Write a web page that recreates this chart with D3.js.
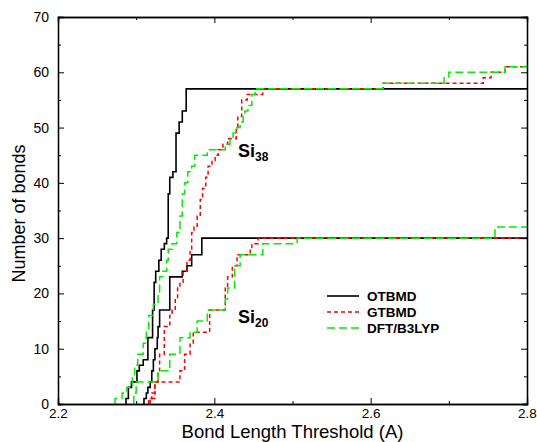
<!DOCTYPE html>
<html lang="en">
  <head>
    <meta charset="UTF-8" />
    <title>Number of bonds vs bond length threshold</title>
    <script src="https://cdn.jsdelivr.net/npm/d3@7/dist/d3.min.js"></script>
    <style>
      body { margin: 0; background: #fff; }
      text { font-family: "Liberation Sans", Arial, sans-serif; }
    </style>
  </head>
  <body>
    <script>
      // step data: threshold where the count rises, and the count after it
      const si38OtX = [2.287, 2.290, 2.294, 2.301, 2.304, 2.309, 2.315, 2.321, 2.323, 2.325, 2.329, 2.332, 2.336, 2.339, 2.341, 2.343, 2.347, 2.351, 2.355, 2.359, 2.364];
      const si38OtN = [1, 3, 4, 6, 7, 8, 12, 17, 22, 24, 26, 28, 29, 30, 38, 41, 42, 49, 51, 53, 57];

      const si38GtX = [2.318, 2.324, 2.328, 2.330, 2.336, 2.343, 2.346, 2.350, 2.353, 2.356, 2.360, 2.365, 2.369, 2.371, 2.374, 2.378, 2.382, 2.385, 2.389, 2.392, 2.397, 2.401, 2.405, 2.411, 2.417, 2.428, 2.430, 2.435, 2.442, 2.462, 2.616, 2.744, 2.754, 2.772];
      const si38GtN = [1, 4, 6, 9, 14, 16, 17, 19, 21, 22, 24, 26, 28, 31, 32, 34, 37, 39, 41, 43, 44, 45, 46, 47, 48, 50, 52, 55, 56, 57, 58, 59, 60, 61];

      const si38DfX = [2.273, 2.282, 2.288, 2.295, 2.298, 2.302, 2.309, 2.313, 2.316, 2.322, 2.328, 2.330, 2.334, 2.339, 2.341, 2.346, 2.352, 2.356, 2.359, 2.362, 2.366, 2.371, 2.375, 2.391, 2.414, 2.420, 2.424, 2.429, 2.433, 2.437, 2.439, 2.443, 2.448, 2.452, 2.616, 2.694, 2.700, 2.772];
      const si38DfN = [1, 2, 3, 5, 7, 9, 11, 13, 16, 18, 20, 23, 24, 26, 28, 29, 31, 34, 38, 40, 42, 43, 45, 46, 47, 48, 49, 50, 51, 52, 53, 54, 56, 57, 58, 59, 60, 61];

      const si20OtX = [2.310, 2.313, 2.315, 2.318, 2.320, 2.322, 2.324, 2.327, 2.328, 2.330, 2.343, 2.359, 2.365, 2.371, 2.384];
      const si20OtN = [1, 2, 3, 4, 6, 8, 10, 12, 14, 17, 23, 24, 25, 27, 30];

      const si20GtX = [2.316, 2.320, 2.324, 2.356, 2.362, 2.369, 2.373, 2.394, 2.414, 2.417, 2.423, 2.429, 2.446, 2.448, 2.456];
      const si20GtN = [1, 2, 4, 6, 9, 11, 13, 17, 21, 23, 25, 27, 28, 29, 30];

      const si20DfX = [2.297, 2.300, 2.328, 2.343, 2.356, 2.369, 2.378, 2.391, 2.414, 2.417, 2.426, 2.433, 2.462, 2.506, 2.759];
      const si20DfN = [2, 4, 6, 9, 12, 13, 15, 17, 19, 21, 25, 27, 29, 30, 32];

      const methods = ["OTBMD", "GTBMD", "DFT/B3LYP"];
      const xTicks = [2.2, 2.4, 2.6, 2.8];
      const yTicks = [0, 10, 20, 30, 40, 50, 60, 70];

      const width = 537;
      const height = 442;
      const margin = { top: 17, right: 10, bottom: 38, left: 58 };
      const innerW = width - margin.left - margin.right;
      const innerH = height - margin.top - margin.bottom;

      const styles = {
        OTBMD: { color: "#000", dash: null, w: 1.6 },
        GTBMD: { color: "#ff0000", dash: "4,3", w: 1.5 },
        "DFT/B3LYP": { color: "#00ee00", dash: "8,4", w: 1.5 }
      };

      const series = [
        { m: "OTBMD", x: si38OtX, n: si38OtN },
        { m: "GTBMD", x: si38GtX, n: si38GtN },
        { m: "DFT/B3LYP", x: si38DfX, n: si38DfN },
        { m: "OTBMD", x: si20OtX, n: si20OtN },
        { m: "GTBMD", x: si20GtX, n: si20GtN },
        { m: "DFT/B3LYP", x: si20DfX, n: si20DfN }
      ];

      const svg = d3
        .select("body")
        .append("svg")
        .attr("width", width)
        .attr("height", height);

      const g = svg
        .append("g")
        .attr("transform", `translate(${margin.left},${margin.top})`);

      const x = d3.scaleLinear().domain([2.2, 2.8]).range([0, innerW]);
      const y = d3.scaleLinear().domain([0, 70]).range([innerH, 0]);

      g.append("clipPath")
        .attr("id", "clip")
        .append("rect")
        .attr("width", innerW)
        .attr("height", innerH);

      const line = d3
        .line()
        .x((d) => x(d[0]))
        .y((d) => y(d[1]))
        .curve(d3.curveStepAfter);

      // black first, dashed curves on top of it
      const order = ["OTBMD", "GTBMD", "DFT/B3LYP"];
      order.forEach((m) => {
        series
          .filter((s) => s.m === m)
          .forEach((s) => {
            const pts = [[s.x[0], 0]];
            s.x.forEach((v, i) => pts.push([v, s.n[i]]));
            pts.push([2.8, s.n[s.n.length - 1]]);
            const st = styles[m];
            g.append("path")
              .datum(pts)
              .attr("clip-path", "url(#clip)")
              .attr("fill", "none")
              .attr("stroke", st.color)
              .attr("stroke-width", st.w)
              .attr("stroke-dasharray", st.dash)
              .attr("d", line);
          });
      });

      // axes, ticks inward on all four sides
      const xMinor = [2.3, 2.5, 2.7];
      const yMinor = d3.range(5, 70, 10);

      g.append("g")
        .attr("class", "xlab")
        .attr("transform", `translate(0,${innerH})`)
        .call(d3.axisBottom(x).tickValues(xTicks).tickSize(-6).tickPadding(4).tickFormat(d3.format(".1f")));
      g.append("g")
        .attr("transform", `translate(0,${innerH})`)
        .call(d3.axisBottom(x).tickValues(xMinor).tickSize(-3).tickFormat(""));
      g.append("g")
        .call(d3.axisTop(x).tickValues(xTicks).tickSize(-6).tickFormat(""));
      g.append("g")
        .call(d3.axisTop(x).tickValues(xMinor).tickSize(-3).tickFormat(""));

      g.append("g")
        .call(d3.axisLeft(y).tickValues(yTicks).tickSize(-6).tickPadding(9));
      g.append("g").call(d3.axisLeft(y).tickValues(yMinor).tickSize(-3).tickFormat(""));
      g.append("g")
        .attr("transform", `translate(${innerW},0)`)
        .call(d3.axisRight(y).tickValues(yTicks).tickSize(-6).tickFormat(""));
      g.append("g")
        .attr("transform", `translate(${innerW},0)`)
        .call(d3.axisRight(y).tickValues(yMinor).tickSize(-3).tickFormat(""));

      g.selectAll(".domain").attr("stroke", "#000").attr("stroke-width", 1.3);
      g.selectAll(".tick line").attr("stroke", "#000").attr("stroke-width", 1);
      g.selectAll(".tick text")
        .attr("fill", "#000")
        .style("font-size", "14px")
        .style("font-family", "'Liberation Sans', Arial, sans-serif");
      g.selectAll(".xlab .tick text").style("font-size", "13.5px");

      // axis titles
      svg
        .append("text")
        .attr("x", margin.left + innerW / 2)
        .attr("y", 438)
        .attr("text-anchor", "middle")
        .style("font-size", "18.5px")
        .text("Bond Length Threshold (A)");

      svg
        .append("text")
        .attr("transform", `translate(25,${margin.top + innerH / 2 + 3}) rotate(-90)`)
        .attr("text-anchor", "middle")
        .style("font-size", "18px")
        .text("Number of bonds");

      // cluster labels
      const label = (px, py, sub) => {
        const t = svg
          .append("text")
          .attr("x", px)
          .attr("y", py)
          .style("font-size", "18px")
          .style("font-weight", "bold");
        t.append("tspan").text("Si");
        t.append("tspan")
          .attr("dy", 4)
          .style("font-size", "12px")
          .text(sub);
      };
      label(238, 157, "38");
      label(238, 323, "20");

      // legend
      const legend = svg.append("g").attr("transform", "translate(327,296)");
      methods.forEach((m, i) => {
        const st = styles[m];
        const row = legend.append("g").attr("transform", `translate(0,${i * 16})`);
        row.append("line")
          .attr("x1", 0)
          .attr("x2", 32)
          .attr("stroke", st.color)
          .attr("stroke-width", st.w)
          .attr("stroke-dasharray", st.dash);
        row.append("text")
          .attr("x", 40)
          .attr("y", 5)
          .style("font-size", "13.5px")
          .style("font-weight", "bold")
          .text(m);
      });
    </script>
  </body>
</html>
